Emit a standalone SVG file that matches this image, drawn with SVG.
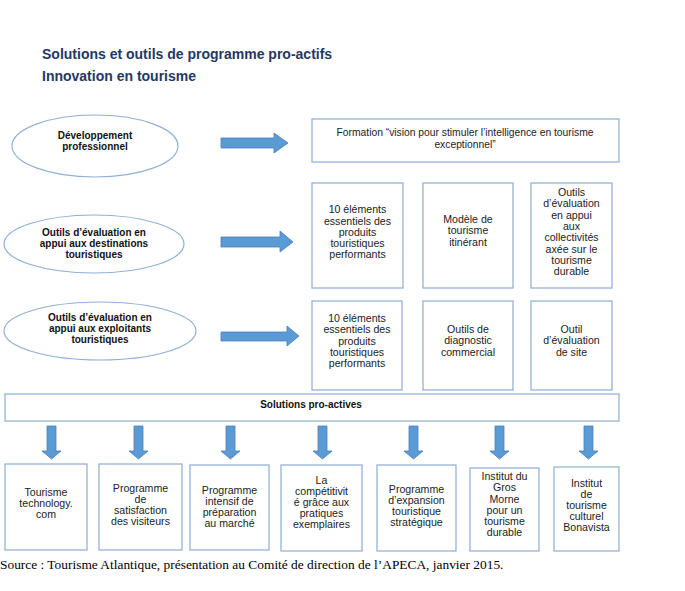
<svg xmlns="http://www.w3.org/2000/svg" width="685" height="591" viewBox="0 0 685 591">
<defs>
<style>
.t{font-family:"Liberation Sans",Arial,sans-serif;font-size:10.6px;fill:#222;text-anchor:middle}
.f{font-family:"Liberation Sans",Arial,sans-serif;font-size:10.3px;fill:#222;text-anchor:middle}
.b{font-family:"Liberation Sans",Arial,sans-serif;font-size:10px;font-weight:bold;fill:#111;text-anchor:middle}
.h{font-family:"Liberation Sans",Arial,sans-serif;font-size:14px;font-weight:bold;fill:#1f3864}
.box{fill:#fff;stroke:#95b3d7;stroke-width:1.3}
.ell{fill:#fff;stroke:#8fb0d8;stroke-width:1.2}
.arr{fill:#5b9bd5;stroke:#4a7ebb;stroke-width:0.8}
.src{font-family:"Liberation Serif","Times New Roman",serif;font-size:13.4px;fill:#000}
</style>
</defs>
<rect width="685" height="591" fill="#fff"/>
<g id="titles">
<text class="h" x="42" y="59">Solutions et outils de programme pro-actifs</text>
<text class="h" x="42" y="81">Innovation en tourisme</text>
</g>
<g id="connectors">
<path class="arr" d="M221,138 H274 V133 L288,143 L274,153 V148 H221 Z"/>
<path class="arr" d="M221,237 H280 V231 L293,242 L280,252 V247 H221 Z"/>
<path class="arr" d="M221,332 H287 V326 L299,336 L287,346 V341 H221 Z"/>
<path class="arr" d="M47,426 H56 V451 H61 L51.5,459 L42,451 H47 Z"/>
<path class="arr" d="M134,426 H143 V451 H148 L138.5,459 L129,451 H134 Z"/>
<path class="arr" d="M226,426 H235 V451 H240 L230.5,459 L221,451 H226 Z"/>
<path class="arr" d="M318,426 H327 V451 H332 L322.5,459 L313,451 H318 Z"/>
<path class="arr" d="M409,426 H418 V451 H423 L413.5,459 L404,451 H409 Z"/>
<path class="arr" d="M495,426 H504 V451 H509 L499.5,459 L490,451 H495 Z"/>
<path class="arr" d="M584,426 H593 V451 H598 L588.5,459 L579,451 H584 Z"/>
</g>
<g id="e1"><ellipse class="ell" cx="95" cy="146" rx="83" ry="31"/>
<text class="b" x="95" y="139">Développement</text><text class="b" x="95" y="150">professionnel</text></g>
<g id="e2"><ellipse class="ell" cx="94" cy="244" rx="90" ry="29"/>
<text class="b" x="94" y="236">Outils d’évaluation en</text><text class="b" x="94" y="247">appui aux destinations</text><text class="b" x="94" y="258">touristiques</text></g>
<g id="e3"><ellipse class="ell" cx="100" cy="331" rx="96" ry="29"/>
<text class="b" x="100" y="321">Outils d’évaluation en</text><text class="b" x="100" y="332">appui aux exploitants</text><text class="b" x="100" y="343">touristiques</text></g>
<g id="formation"><rect class="box" x="312" y="119" width="307" height="43"/>
<text class="f" x="465" y="136">Formation “vision pour stimuler l’intelligence en tourisme</text><text class="f" x="465" y="148">exceptionnel”</text></g>
<g id="r2b1"><rect class="box" x="312" y="183" width="91" height="105"/>
<text class="t" x="357.5" y="213">10 éléments</text><text class="t" x="357.5" y="225">essentiels des</text><text class="t" x="357.5" y="236">produits</text><text class="t" x="357.5" y="247">touristiques</text><text class="t" x="357.5" y="258">performants</text></g>
<g id="r2b2"><rect class="box" x="423" y="183" width="90" height="105"/>
<text class="t" x="468" y="223">Modèle de</text><text class="t" x="468" y="234">tourisme</text><text class="t" x="468" y="246">itinérant</text></g>
<g id="r2b3"><rect class="box" x="531" y="183" width="81" height="105"/>
<text class="t" x="571.5" y="196">Outils</text><text class="t" x="571.5" y="207">d’évaluation</text><text class="t" x="571.5" y="219">en appui</text><text class="t" x="571.5" y="230">aux</text><text class="t" x="571.5" y="241">collectivités</text><text class="t" x="571.5" y="253">axée sur le</text><text class="t" x="571.5" y="264">tourisme</text><text class="t" x="571.5" y="275">durable</text></g>
<g id="r3b1"><rect class="box" x="312" y="301" width="90" height="89"/>
<text class="t" x="357" y="322">10 éléments</text><text class="t" x="357" y="333">essentiels des</text><text class="t" x="357" y="345">produits</text><text class="t" x="357" y="356">touristiques</text><text class="t" x="357" y="367">performants</text></g>
<g id="r3b2"><rect class="box" x="423" y="301" width="90" height="89"/>
<text class="t" x="468" y="333">Outils de</text><text class="t" x="468" y="344">diagnostic</text><text class="t" x="468" y="356">commercial</text></g>
<g id="r3b3"><rect class="box" x="531" y="301" width="81" height="89"/>
<text class="t" x="571.5" y="333">Outil</text><text class="t" x="571.5" y="344">d’évaluation</text><text class="t" x="571.5" y="356">de site</text></g>
<g id="solutions"><rect class="box" x="5" y="394" width="614" height="27"/>
<text class="b" x="311" y="408">Solutions pro-actives</text></g>
<g id="p1"><rect class="box" x="5" y="464" width="82" height="86"/>
<text class="t" x="46" y="496">Tourisme</text><text class="t" x="46" y="507">technology.</text><text class="t" x="46" y="518">com</text></g>
<g id="p2"><rect class="box" x="99" y="464" width="83" height="86"/>
<text class="t" x="140.5" y="492">Programme</text><text class="t" x="140.5" y="503">de</text><text class="t" x="140.5" y="514">satisfaction</text><text class="t" x="140.5" y="525">des visiteurs</text></g>
<g id="p3"><rect class="box" x="190" y="465" width="79" height="85"/>
<text class="t" x="229.5" y="494">Programme</text><text class="t" x="229.5" y="505">intensif de</text><text class="t" x="229.5" y="516">préparation</text><text class="t" x="229.5" y="527">au marché</text></g>
<g id="p4"><rect class="box" x="281" y="465" width="81" height="86"/>
<text class="t" x="321.5" y="484">La</text><text class="t" x="321.5" y="495">compétitivit</text><text class="t" x="321.5" y="506">é grâce aux</text><text class="t" x="321.5" y="517">pratiques</text><text class="t" x="321.5" y="528">exemplaires</text></g>
<g id="p5"><rect class="box" x="377" y="465" width="79" height="86"/>
<text class="t" x="416.5" y="493">Programme</text><text class="t" x="416.5" y="504">d’expansion</text><text class="t" x="416.5" y="515">touristique</text><text class="t" x="416.5" y="526">stratégique</text></g>
<g id="p6"><rect class="box" x="470" y="468" width="69" height="83"/>
<text class="t" x="504.5" y="480">Institut du</text><text class="t" x="504.5" y="491">Gros</text><text class="t" x="504.5" y="503">Morne</text><text class="t" x="504.5" y="514">pour un</text><text class="t" x="504.5" y="525">tourisme</text><text class="t" x="504.5" y="536">durable</text></g>
<g id="p7"><rect class="box" x="554" y="467" width="65" height="84"/>
<text class="t" x="586.5" y="487">Institut</text><text class="t" x="586.5" y="498">de</text><text class="t" x="586.5" y="509">tourisme</text><text class="t" x="586.5" y="520">culturel</text><text class="t" x="586.5" y="531">Bonavista</text></g>
<text class="src" x="0" y="569">Source : Tourisme Atlantique, présentation au Comité de direction de l’APECA, janvier 2015.</text>
</svg>
